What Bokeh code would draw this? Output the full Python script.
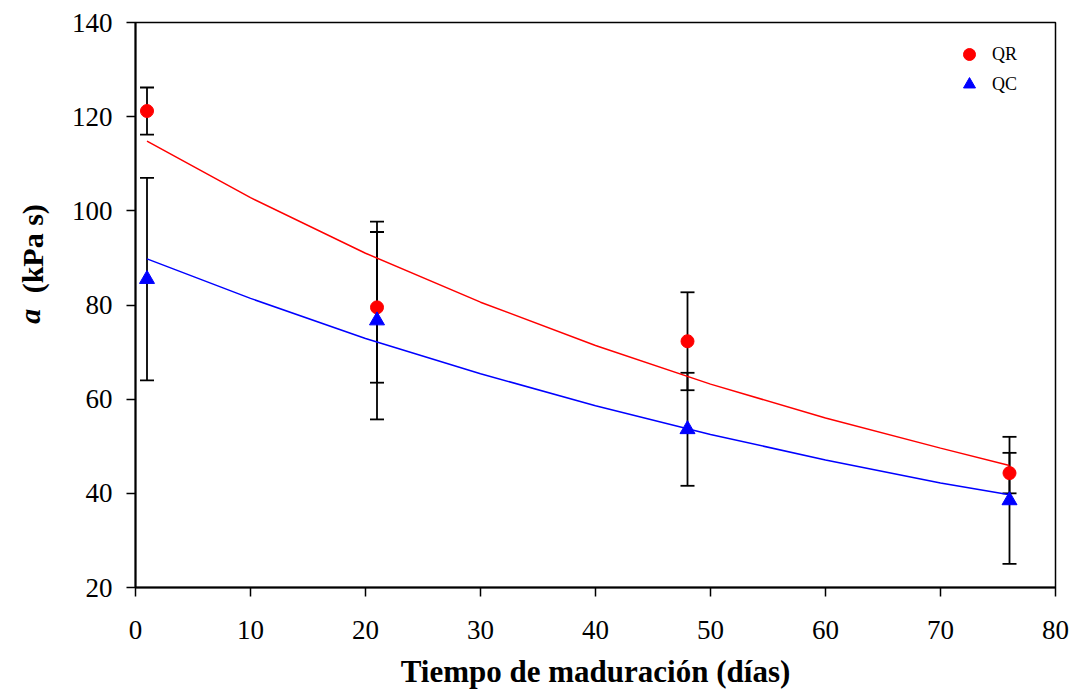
from bokeh.plotting import figure
from bokeh.models import (Whisker, ColumnDataSource, Legend, LegendItem, FixedTicker,
                          Range1d, LinearAxis)
from bokeh.embed import file_html
from bokeh.resources import INLINE

# data
days = [1, 21, 48, 76]
qr_mean = [121.2, 79.5, 72.3, 44.3]
qr_err = [5.0, 16.0, 10.4, 4.3]
qc_mean = [85.5, 76.7, 53.6, 38.5]
qc_err = [21.5, 21.0, 12.0, 13.5]

fit_x = [1, 10, 20, 30, 40, 50, 60, 70, 76]
qr_fit = [114.8, 102.8, 91.0, 80.6, 71.4, 63.2, 56.0, 49.6, 45.9]
qc_fit = [89.8, 81.4, 72.9, 65.4, 58.6, 52.5, 47.1, 42.2, 39.7]

x_ticks = [0, 10, 20, 30, 40, 50, 60, 70, 80]
y_ticks = [20, 40, 60, 80, 100, 120, 140]

SERIF = "Liberation Serif"
NB = "\u00a0"

p = figure(width=1074, height=691, output_backend="svg", toolbar_location=None,
           x_range=Range1d(0, 80), y_range=Range1d(20, 140))
p.min_border_left = 135
p.min_border_right = 19
p.min_border_top = 22
p.min_border_bottom = 104
p.background_fill_color = "white"
p.border_fill_color = "white"
p.grid.visible = False
p.outline_line_color = "black"
p.outline_line_width = 1.5
p.outline_line_alpha = 1.0

for ax in (p.xaxis[0], p.yaxis[0]):
    ax.axis_line_width = 2
    ax.axis_line_color = "black"
    ax.major_tick_line_width = 1.5
    ax.major_tick_line_color = "black"
    ax.major_tick_out = 9
    ax.major_tick_in = 0
    ax.minor_tick_line_color = None
    ax.major_label_text_font = SERIF
    ax.major_label_text_font_size = "27px"
    ax.major_label_text_color = "black"
p.xaxis.ticker = FixedTicker(ticks=x_ticks)
p.yaxis.ticker = FixedTicker(ticks=y_ticks)
p.xaxis.major_label_standoff = 24
p.yaxis.major_label_standoff = 14

p.xaxis.axis_label = "Tiempo de maduración (días)"
p.xaxis.axis_label_text_font = SERIF
p.xaxis.axis_label_text_font_size = "31px"
p.xaxis.axis_label_text_font_style = "bold"
p.xaxis.axis_label_text_color = "black"
p.xaxis.axis_label_standoff = 12


def title_axis(text, style, size, standoff):
    ax = LinearAxis(ticker=FixedTicker(ticks=[]))
    ax.axis_line_color = None
    ax.major_tick_line_color = None
    ax.minor_tick_line_color = None
    ax.major_label_text_font_size = "0px"
    ax.axis_label = text
    ax.axis_label_text_font = SERIF
    ax.axis_label_text_font_size = size
    ax.axis_label_text_font_style = style
    ax.axis_label_text_color = "black"
    ax.axis_label_standoff = standoff
    return ax


# y axis title: "(kPa s)" bold, "a" bold italic, on one vertical line
p.add_layout(title_axis(NB * 15 + "(kPa s)", "bold", "30px", 20), "left")
p.add_layout(title_axis("a" + NB * 3, "bold italic", "30px", -33), "left")

# fitted curves
p.line(fit_x, qr_fit, line_color="red", line_width=1.5)
p.line(fit_x, qc_fit, line_color="blue", line_width=1.5)

# error bars
qr_src = ColumnDataSource(dict(x=days, y=qr_mean,
                               lo=[m - e for m, e in zip(qr_mean, qr_err)],
                               hi=[m + e for m, e in zip(qr_mean, qr_err)]))
qc_src = ColumnDataSource(dict(x=days, y=qc_mean,
                               lo=[m - e for m, e in zip(qc_mean, qc_err)],
                               hi=[m + e for m, e in zip(qc_mean, qc_err)]))
for src in (qc_src, qr_src):
    w = Whisker(source=src, base="x", lower="lo", upper="hi",
                line_color="black", line_width=1.8)
    w.upper_head.size = 14
    w.lower_head.size = 14
    w.upper_head.line_width = 1.8
    w.lower_head.line_width = 1.8
    w.upper_head.line_color = "black"
    w.lower_head.line_color = "black"
    p.add_layout(w)

r_qr = p.scatter("x", "y", source=qr_src, marker="circle", size=13,
                 fill_color="red", line_color="red")
r_qc = p.scatter("x", "y", source=qc_src, marker="triangle", size=15,
                 fill_color="blue", line_color="blue")

legend = Legend(items=[LegendItem(label="QR", renderers=[r_qr]),
                       LegendItem(label="QC", renderers=[r_qc])],
                location=(819, 488))
legend.border_line_color = None
legend.background_fill_alpha = 0
legend.label_text_font = SERIF
legend.label_text_font_size = "18px"
legend.label_text_color = "black"
legend.spacing = 0
legend.glyph_width = 30
legend.glyph_height = 30
legend.label_height = 30
legend.label_standoff = 8
legend.margin = 0
legend.padding = 6
p.add_layout(legend)

open("out.html", "w").write(file_html(p, INLINE))
